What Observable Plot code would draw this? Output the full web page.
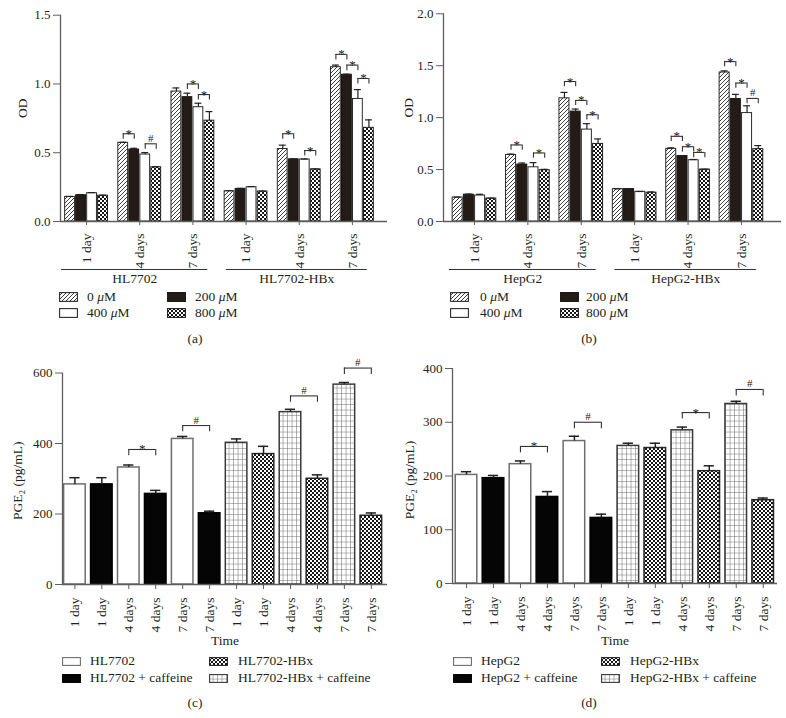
<!DOCTYPE html>
<html>
<head>
<meta charset="utf-8">
<script src="https://cdn.jsdelivr.net/npm/d3@7"></script>
<script src="https://cdn.jsdelivr.net/npm/@observablehq/plot@0.6"></script>
<style>
  html, body { margin: 0; padding: 0; background: #fff; }
  #page { position: relative; width: 786px; height: 718px; overflow: hidden;
          font-family: "Liberation Serif", "DejaVu Serif", "Times New Roman", serif; color: #231f20; }
  .lt { position: absolute; font-size: 13.5px; line-height: 16px; white-space: nowrap; }
  .cap { position: absolute; font-size: 13.5px; line-height: 16px; white-space: nowrap; transform: translateX(-50%); }
</style>
</head>
<body>
<svg width="0" height="0" style="position:absolute;left:0;top:0">
  <defs>
    <pattern id="hatch" patternUnits="userSpaceOnUse" width="4" height="4">
      <rect width="4" height="4" fill="#fff"/>
      <path d="M-1,1 l2,-2 M0,4 l4,-4 M3,5 l2,-2" stroke="#2a2a2a" stroke-width="0.9"/>
    </pattern>
    <pattern id="checker" patternUnits="userSpaceOnUse" width="4" height="4">
      <rect width="4" height="4" fill="#161616"/>
      <rect width="2" height="2" fill="#fff"/>
      <rect x="2" y="2" width="2" height="2" fill="#fff"/>
    </pattern>
    <pattern id="grid" patternUnits="userSpaceOnUse" width="4.5" height="5.5">
      <rect width="4.5" height="5.5" fill="#fff"/>
      <path d="M4.5,0 V5.5 M0,5.5 H4.5" stroke="#6a6a6a" stroke-width="1"/>
    </pattern>
  </defs>
</svg>
<div id="page"></div>
<script>
// ---------------- DATA ----------------
const timeLabels = ["1 day", "4 days", "7 days"];
const concLabels = ["0 μM", "200 μM", "400 μM", "800 μM"];
const cellsA = ["HL7702", "HL7702-HBx"];
const cellsB = ["HepG2", "HepG2-HBx"];

// Panel (a) OD; groups: HL7702 1/4/7 days, HL7702-HBx 1/4/7 days
const odA_0   = [0.179, 0.572, 0.945, 0.220, 0.527, 1.122];
const odA_200 = [0.191, 0.523, 0.904, 0.237, 0.452, 1.067];
const odA_400 = [0.206, 0.487, 0.831, 0.249, 0.451, 0.891];
const odA_800 = [0.188, 0.394, 0.733, 0.218, 0.379, 0.681];
const errA_0   = [0.003, 0.004, 0.026, 0.004, 0.028, 0.015];
const errA_200 = [0.005, 0.009, 0.029, 0.004, 0.003, 0.004];
const errA_400 = [0.004, 0.014, 0.029, 0.005, 0.003, 0.068];
const errA_800 = [0.003, 0.004, 0.066, 0.003, 0.003, 0.058];
// [group, fromBar, toBar, bracket height, symbol]
const sigA = [[1,0,1,0.638,"*"],[1,2,3,0.565,"#"],[2,1,2,1.0,"*"],[2,2,3,0.923,"*"],
              [4,0,1,0.638,"*"],[4,2,3,0.516,"*"],[5,0,1,1.215,"*"],[5,1,2,1.137,"*"],[5,2,3,1.04,"*"]];

// Panel (b) OD; groups: HepG2 1/4/7 days, HepG2-HBx 1/4/7 days
const odB_0   = [0.231, 0.641, 1.186, 0.312, 0.699, 1.435];
const odB_200 = [0.258, 0.548, 1.058, 0.312, 0.630, 1.179];
const odB_400 = [0.250, 0.522, 0.885, 0.286, 0.590, 1.044];
const odB_800 = [0.221, 0.494, 0.747, 0.277, 0.500, 0.697];
const errB_0   = [0.004, 0.008, 0.057, 0.002, 0.010, 0.015];
const errB_200 = [0.006, 0.015, 0.025, 0.002, 0.005, 0.045];
const errB_400 = [0.012, 0.045, 0.057, 0.003, 0.007, 0.070];
const errB_800 = [0.004, 0.008, 0.048, 0.008, 0.004, 0.034];
const sigB = [[1,0,1,0.737,"*"],[1,2,3,0.66,"*"],[2,0,1,1.348,"*"],[2,1,2,1.166,"*"],[2,2,3,1.028,"*"],
              [4,0,1,0.82,"*"],[4,1,2,0.72,"*"],[4,2,3,0.665,"*"],[5,0,1,1.54,"*"],[5,1,2,1.333,"*"],[5,2,3,1.185,"#"]];

// Panels (c), (d) PGE2
const seriesC = ["HL7702", "HL7702-HBx", "HL7702 + caffeine", "HL7702-HBx + caffeine"];
const seriesD = ["HepG2", "HepG2-HBx", "HepG2 + caffeine", "HepG2-HBx + caffeine"];
const barTime = ["1 day","1 day","4 days","4 days","7 days","7 days","1 day","1 day","4 days","4 days","7 days","7 days"];
const barSeries = [0, 2, 0, 2, 0, 2, 3, 1, 3, 1, 3, 1];
const pgeC    = [284, 284, 332, 257, 413, 202, 402, 370, 489, 300, 567, 195];
const pgeErrC = [19, 19, 7, 10, 7, 6, 11, 22, 8, 11, 6, 8];
const pgeD    = [202, 196, 222, 161, 265, 122, 256, 252, 285, 209, 334, 155];
const pgeErrD = [6, 5, 6, 10, 9, 7, 5, 9, 6, 10, 5, 4];
// [fromBar, toBar, bracket height, symbol]
const sigC = [[2,3,383,"*"],[4,5,451,"#"],[8,9,535,"#"],[10,11,614,"#"]];
const sigD = [[2,3,255,"*"],[4,5,300,"#"],[8,9,318,"*"],[10,11,361,"#"]];

// ---------------- STYLE ----------------
const FONT = '"Liberation Serif", "DejaVu Serif", "Times New Roman", serif';
const AX = "#5e5e5e", INK = "#231f20";
const concFills = ["url(#hatch)", "#231b18", "#ffffff", "url(#checker)"];
const concStrokes = ["#2b2b2b", "#1a1410", "#2b2b2b", "#1f1f1f"];
const serFills = ["#ffffff", "url(#checker)", "#050505", "url(#grid)"];
const serStrokes = ["#6e6e6e", "#262626", "#000000", "#3a3a3a"];
const baseStyle = {fontFamily: FONT, fontSize: "13px", color: INK, background: "transparent", overflow: "visible"};

const page = document.getElementById("page");
function place(el, left, top) {
  el.style.position = "absolute"; el.style.left = left + "px"; el.style.top = top + "px";
  page.appendChild(el);
}

function sigMarks(br, leg) {
  return [
    Plot.ruleY(br, {y: "top", x1: "xa", x2: "xb", stroke: "#333", strokeWidth: 1.1}),
    Plot.ruleX(br, {x: "xa", y1: d => d.top - leg, y2: "top", stroke: "#333", strokeWidth: 1.1}),
    Plot.ruleX(br, {x: "xb", y1: d => d.top - leg, y2: "top", stroke: "#333", strokeWidth: 1.1}),
    Plot.text(br.filter(d => d.sym === "*"), {x: d => (d.xa + d.xb) / 2, y: "top", text: "sym", lineAnchor: "bottom", dy: 4, fontSize: 13, fill: "#222"}),
    Plot.text(br.filter(d => d.sym === "#"), {x: d => (d.xa + d.xb) / 2, y: "top", text: "sym", lineAnchor: "bottom", dy: -2, fontSize: 11, fill: "#222"})
  ];
}

function groupedPanel({means, errs, sig, cells, yMax, yTicks, mt, ml, mr, xDomain, bw, cap, leg, labelDx}) {
  const rows = [];
  means.forEach((ser, c) => ser.forEach((v, g) => rows.push({c, g, x: g + (c - 1.5) * bw, v, e: errs[c][g]})));
  const br = sig.map(([g, a, b, top, sym]) => ({xa: g + (a - 1.5) * bw, xb: g + (b - 1.5) * bw, top, sym}));
  const groups = cells.map((name, k) => ({name, x1: 3 * k - 0.47 + 0.1 * k, x2: 3 * k + 2.28}));
  return Plot.plot({
    width: 393, height: 290, marginTop: mt, marginBottom: 69, marginLeft: ml, marginRight: mr,
    x: {domain: xDomain}, y: {domain: [0, yMax]},
    style: baseStyle,
    marks: [
      ...concFills.map((f, c) => Plot.rect(rows.filter(d => d.c === c), {
        x1: d => d.x - bw / 2, x2: d => d.x + bw / 2, y1: 0, y2: "v",
        fill: f, stroke: concStrokes[c], strokeWidth: 1, insetLeft: 0.6, insetRight: 0.6})),
      Plot.ruleX(rows, {x: "x", y1: "v", y2: d => d.v + d.e, stroke: "#222", strokeWidth: 1.2}),
      Plot.ruleY(rows, {y: d => d.v + d.e, x1: d => d.x - cap, x2: d => d.x + cap, stroke: "#222", strokeWidth: 1.2}),
      ...sigMarks(br, leg),
      Plot.ruleY([0], {stroke: AX, strokeWidth: 1.3}),
      Plot.ruleX([xDomain[0]], {stroke: AX, strokeWidth: 1.3}),
      Plot.axisY({ticks: yTicks, tickFormat: d3.format(".1f"), tickSize: 7, tickPadding: 3, stroke: AX, fontSize: 13, label: null}),
      Plot.axisX({ticks: d3.range(6), tickFormat: i => timeLabels[i % 3], tickRotate: -90, tickSize: 4, tickPadding: 8, stroke: AX, fontSize: 13.5, label: null}),
      Plot.ruleY(groups, {y: 0, x1: "x1", x2: "x2", dy: 48, stroke: "#333", strokeWidth: 1}),
      Plot.text(groups, {x: d => (d.x1 + d.x2) / 2, y: 0, text: "name", dy: 57, fontSize: 13.5}),
      Plot.text(["OD"], {frameAnchor: "left", textAnchor: "middle", dx: labelDx, dy: -10, rotate: -90, fontSize: 13.5})
    ]
  });
}

function simplePanel({vals, errs, sig, yMax, yTicks, mt, mb, ml, mr, xDomain, leg, labelDx, labelDy, timeDy}) {
  const bw = 0.8, cap = 0.19;
  const rows = vals.map((v, i) => ({i, v, e: errs[i], s: barSeries[i]}));
  const br = sig.map(([a, b, top, sym]) => ({xa: a, xb: b, top, sym}));
  return Plot.plot({
    width: 393, height: 300, marginTop: mt, marginBottom: mb, marginLeft: ml, marginRight: mr,
    x: {domain: xDomain}, y: {domain: [0, yMax]},
    style: baseStyle,
    marks: [
      ...serFills.map((f, s) => Plot.rect(rows.filter(d => d.s === s), {
        x1: d => d.i - bw / 2, x2: d => d.i + bw / 2, y1: 0, y2: "v",
        fill: f, stroke: serStrokes[s], strokeWidth: 1.5})),
      Plot.ruleX(rows, {x: "i", y1: "v", y2: d => d.v + d.e, stroke: "#222", strokeWidth: 1.5}),
      Plot.ruleY(rows, {y: d => d.v + d.e, x1: d => d.i - cap, x2: d => d.i + cap, stroke: "#222", strokeWidth: 1.5}),
      ...sigMarks(br, leg),
      Plot.ruleY([0], {stroke: AX, strokeWidth: 1.3}),
      Plot.ruleX([xDomain[0]], {stroke: AX, strokeWidth: 1.3}),
      Plot.axisY({ticks: yTicks, tickSize: 7, tickPadding: 3, stroke: AX, fontSize: 13, label: null}),
      Plot.axisX({ticks: d3.range(12), tickFormat: i => barTime[i], tickRotate: -90, tickSize: 5, tickPadding: 8, stroke: AX, fontSize: 13.5, label: null}),
      Plot.text(["Time"], {frameAnchor: "bottom", dy: timeDy, fontSize: 13.5}),
      Plot.text(["PGE₂ (pg/mL)"], {frameAnchor: "left", textAnchor: "middle", dx: labelDx, dy: labelDy, rotate: -90, fontSize: 13.5})
    ]
  });
}

function legend(items, swX, txX, rowY, swW, swH) {
  items.forEach((it, k) => {
    const r = Math.floor(k / 2), c = k % 2;
    const sw = document.createElementNS("http://www.w3.org/2000/svg", "svg");
    sw.setAttribute("width", swW); sw.setAttribute("height", swH);
    sw.innerHTML = `<rect x="0.6" y="0.6" width="${swW - 1.2}" height="${swH - 1.2}" fill="${it.fill}" stroke="${it.stroke}" stroke-width="1.1"/>`;
    place(sw, swX[c], rowY[r] - swH / 2);
    const t = document.createElement("div");
    t.className = "lt";
    t.innerHTML = it.label.replace("μ", "<i>μ</i>");
    place(t, txX[c], rowY[r] - 8.5);
  });
}

function caption(text, cx, cy) {
  const d = document.createElement("div");
  d.className = "cap"; d.textContent = text;
  place(d, cx, cy - 8);
}

// ---------------- PANELS ----------------
place(groupedPanel({
  means: [odA_0, odA_200, odA_400, odA_800], errs: [errA_0, errA_200, errA_400, errA_800],
  sig: sigA, cells: cellsA, yMax: 1.5, yTicks: [0, 0.5, 1.0, 1.5],
  mt: 14.7, ml: 60, mr: 6, xDomain: [-0.49, 5.66], bw: 0.207, cap: 0.065, leg: 0.04, labelDx: -38
}), 0, 0);

place(groupedPanel({
  means: [odB_0, odB_200, odB_400, odB_800], errs: [errB_0, errB_200, errB_400, errB_800],
  sig: sigB, cells: cellsB, yMax: 2.0, yTicks: [0, 0.5, 1.0, 1.5, 2.0],
  mt: 13.3, ml: 50, mr: 5, xDomain: [-0.58, 5.75], bw: 0.21, cap: 0.065, leg: 0.05, labelDx: -35
}), 393, 0);

place(simplePanel({
  vals: pgeC, errs: pgeErrC, sig: sigC, yMax: 600, yTicks: [0, 200, 400, 600],
  mt: 22.5, mb: 66, ml: 62, mr: 6, xDomain: [-0.46, 11.6], leg: 18, labelDx: -45, labelDy: 2, timeDy: 60
}), 0, 350);

place(simplePanel({
  vals: pgeD, errs: pgeErrD, sig: sigD, yMax: 400, yTicks: [0, 100, 200, 300, 400],
  mt: 18, mb: 67, ml: 59, mr: 9, xDomain: [-0.52, 11.53], leg: 12, labelDx: -43, labelDy: 4, timeDy: 61
}), 393, 350);

// ---------------- LEGENDS & CAPTIONS ----------------
const concItems = concLabels.map((label, c) => ({label, fill: concFills[c], stroke: concStrokes[c]}));
legend(concItems, [59, 167], [87, 195], [297, 313], 19, 10);
legend(concItems, [450, 560], [480, 586], [297, 313], 19, 10);
legend(seriesC.map((label, s) => ({label, fill: serFills[s], stroke: serStrokes[s]})), [62, 209], [90, 238], [661, 678], 19, 9);
legend(seriesD.map((label, s) => ({label, fill: serFills[s], stroke: serStrokes[s]})), [453, 601], [481, 630], [661, 678], 19, 9);

caption("(a)", 195, 339);
caption("(b)", 589, 339);
caption("(c)", 195, 703);
caption("(d)", 589, 703);
</script>
</body>
</html>
